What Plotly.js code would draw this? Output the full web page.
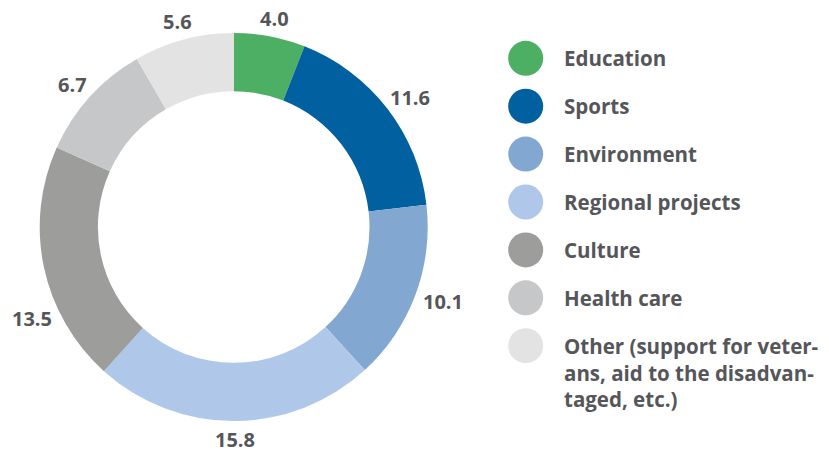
<!DOCTYPE html>
<html><head><meta charset="utf-8">
<script src="https://cdn.plot.ly/plotly-3.0.1.min.js"></script>
<style>html,body{margin:0;padding:0;background:#fff}#chart{width:829px;height:452px}</style>
</head><body><div id="chart"></div>
<script>
const categories = ["Education","Sports","Environment","Regional projects","Culture","Health care","Other (support for veter-<br>ans, aid to the disadvan-<br>taged, etc.)"];
const values = [4.0, 11.6, 10.1, 15.8, 13.5, 6.7, 5.6];
const valueLabels = ["4.0","11.6","10.1","15.8","13.5","6.7","5.6"];
const colors = ["#4CAF64","#0060A0","#82A7D1","#AFC8E9","#9D9D9C","#C6C7C8","#E3E3E3"];

const W = 829, H = 452;
const FONT = "Open Sans, Noto Sans, sans-serif";
const TXT = "#55565A";
const FS_VAL = 20;
const FS_LEG = 20.5;

// pie geometry (pixels)
const PIE_L = 39.7, PIE_R = 427.7, PIE_T = 33, PIE_B = 421;
const CX = (PIE_L + PIE_R) / 2, CY = (PIE_T + PIE_B) / 2, RO = (PIE_B - PIE_T) / 2;
const GAP = 9, EDGE = 12;

const pie = {
  type: "pie",
  values: values,
  labels: categories,
  textinfo: "none",
  hole: 0.70,
  sort: false,
  direction: "clockwise",
  rotation: 0,
  marker: {colors: colors, line: {width: 0}},
  domain: {x: [PIE_L/W, PIE_R/W], y: [1-PIE_B/H, 1-PIE_T/H]},
  showlegend: false,
  automargin: false,
  hoverinfo: "label+value"
};

// value labels outside the ring, at each slice's mid angle (slid along the slice if it would leave the canvas)
const total = values.reduce((a, b) => a + b, 0);
let cum = 0;
const valueAnn = values.map((v, i) => {
  const a0 = cum / total * 360, a1 = (cum + v) / total * 360;
  cum += v;
  const s = valueLabels[i];
  const digits = (s.match(/\d/g) || []).length, dots = s.length - digits;
  const hw = (digits * 0.57 + dots * 0.28) * FS_VAL / 2, hh = FS_VAL * 0.47;
  const place = deg => {
    const t = deg * Math.PI / 180, sn = Math.sin(t), cs = Math.cos(t);
    return {x: CX + (RO + GAP) * sn + hw * sn, y: CY - (RO + GAP) * cs - hh * cs};
  };
  const ok = p => p.x - hw >= EDGE && p.x + hw <= W - EDGE && p.y - hh >= 0 && p.y + hh <= H;
  const mid = (a0 + a1) / 2;
  let p = place(mid);
  if (!ok(p)) {
    for (let d = 0.5; d <= (a1 - a0) / 2; d += 0.5) {
      const c1 = place(mid - d), c2 = place(mid + d);
      if (ok(c1)) { p = c1; break; }
      if (ok(c2)) { p = c2; break; }
    }
  }
  return {
    xref: "paper", yref: "paper", x: p.x / W, y: 1 - p.y / H,
    text: "<b>" + s + "</b>", showarrow: false, xanchor: "center", yanchor: "middle",
    font: {family: FONT, size: FS_VAL, color: TXT}
  };
});

const idx = categories.map((_, i) => i);
const legendMarkers = {
  type: "scatter",
  mode: "markers",
  x: categories.map(() => 0),
  y: idx,
  xaxis: "x2", yaxis: "y2",
  marker: {size: 35, color: colors, line: {width: 0}},
  showlegend: false,
  cliponaxis: false,
  hoverinfo: "skip"
};

// legend labels: first line centred on the dot
const legendAnn = categories.map((c, i) => {
  const lines = c.split("<br>").length;
  return {
    xref: "x2", yref: "y2", x: 0, y: i,
    text: "<b>" + c + "</b>",
    showarrow: false, xanchor: "left", yanchor: "middle", align: "left",
    xshift: 36, yshift: -(lines - 1) * FS_LEG * 0.65,
    font: {family: FONT, size: FS_LEG, color: TXT}
  };
});

const layout = {
  width: W, height: H,
  margin: {l: 0, r: 0, t: 0, b: 0},
  paper_bgcolor: "#fff", plot_bgcolor: "rgba(0,0,0,0)",
  xaxis2: {domain: [525.7/W, 1], range: [0, 1], visible: false, fixedrange: true},
  yaxis2: {domain: [0, 1], range: [(H-58.3)/47.9, -58.3/47.9], visible: false, fixedrange: true},
  annotations: valueAnn.concat(legendAnn),
  showlegend: false
};

Plotly.newPlot("chart", [pie, legendMarkers], layout, {displayModeBar: false, staticPlot: true});
</script></body></html>
